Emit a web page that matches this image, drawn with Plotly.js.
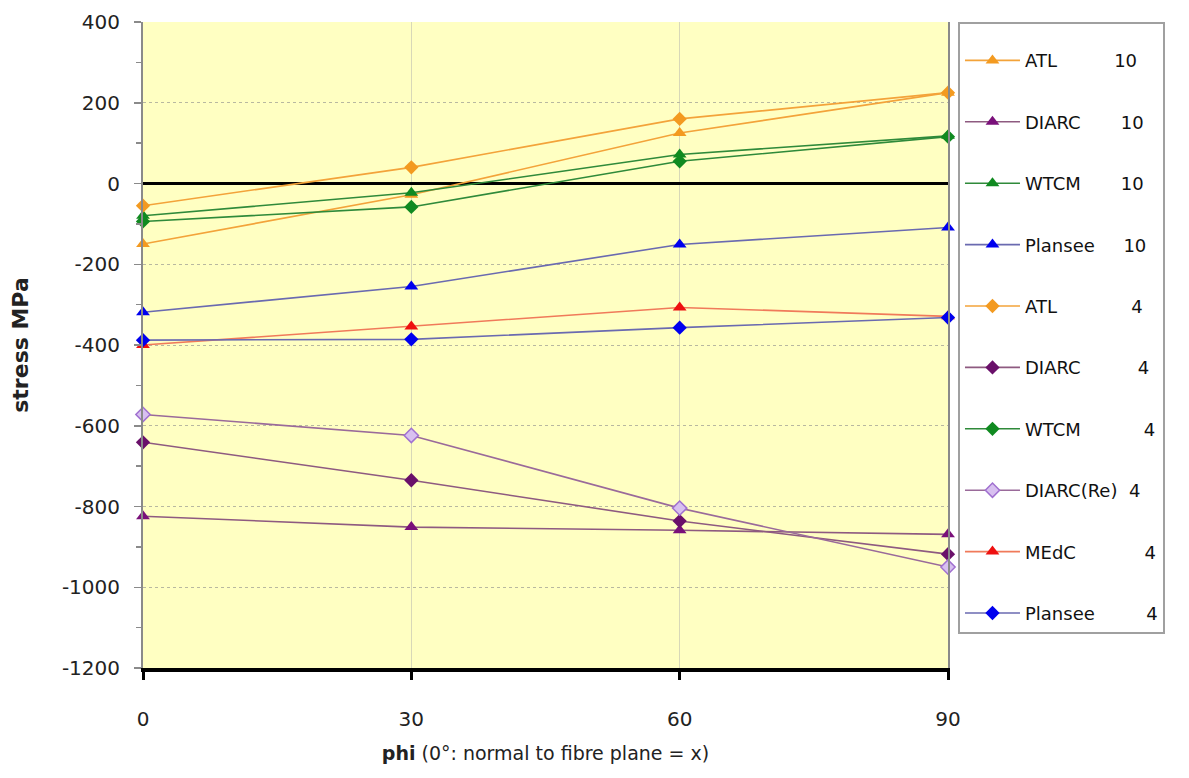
<!DOCTYPE html>
<html>
<head>
<meta charset="utf-8">
<script src="https://cdn.plot.ly/plotly-3.0.1.min.js"></script>
<style>html,body{margin:0;padding:0;background:#fff;}#chart{width:1189px;height:778px;}</style>
</head>
<body>
<div id="chart"></div>
<script>
// phi angles
var phi = [0, 30, 60, 90];
var phiLabels = ['0', '30', '60', '90'];

// stress tick labels
var stressTicks = [400, 200, 0, -200, -400, -600, -800, -1000, -1200];
var stressLabels = ['400', '200', '0', '-200', '-400', '-600', '-800', '-1000', '-1200'];

// series values (stress, MPa)
var atl10      = [-150, -28, 125, 225];
var diarc10    = [-824, -851, -859, -869];
var wtcm10     = [-80, -23, 72, 118];
var plansee10  = [-319, -255, -151, -109];
var atl4       = [-55, 40, 160, 225];
var diarc4     = [-641, -735, -836, -918];
var wtcm4      = [-94, -58, 55, 116];
var diarcRe4   = [-572, -624, -804, -950];
var medc4      = [-400, -354, -307, -329];
var plansee4   = [-388, -386, -357, -332];

// legend labels
var N = '\u00a0';
function pad(n){ return new Array(n+1).join(N); }
var labels = [
  'ATL' + pad(10) + '10',
  'DIARC' + pad(7) + '10',
  'WTCM' + pad(7) + '10',
  'Plansee' + pad(5) + '10',
  'ATL' + pad(13) + '4',
  'DIARC' + pad(10) + '4',
  'WTCM' + pad(11) + '4',
  'DIARC(Re)' + pad(2) + '4',
  'MEdC' + pad(12) + '4',
  'Plansee' + pad(9) + '4'
];

var seriesData = [atl10, diarc10, wtcm10, plansee10, atl4, diarc4, wtcm4, diarcRe4, medc4, plansee4];
var styles = [
  {line:'#f3a33a', mc:'#f39a20', sym:'triangle-up', size:12},
  {line:'#8e5a80', mc:'#7a107a', sym:'triangle-up', size:12},
  {line:'#2f8a3a', mc:'#108a20', sym:'triangle-up', size:12},
  {line:'#6a6ab0', mc:'#0000ee', sym:'triangle-up', size:12},
  {line:'#f3a33a', mc:'#f39a20', sym:'diamond', size:11},
  {line:'#8e5a80', mc:'#6a106a', sym:'diamond', size:11},
  {line:'#2f8a3a', mc:'#108a20', sym:'diamond', size:11},
  {line:'#9a6a9a', mc:'#d8c0f0', sym:'diamond', size:11, border:'#a070d0'},
  {line:'#f07a5a', mc:'#ee1010', sym:'triangle-up', size:12},
  {line:'#6a6ab0', mc:'#0000ee', sym:'diamond', size:11}
];

var traces = seriesData.map(function(vals, i){
  var s = styles[i];
  return {
    x: phi, y: vals, name: labels[i], type: 'scatter', mode: 'lines+markers',
    legendgroup: 'g' + i,
    cliponaxis: false,
    line: {color: s.line, width: 1.6},
    marker: {symbol: s.sym, size: s.size, color: s.mc,
             line: {color: s.border || s.mc, width: s.border ? 1.5 : 0}}
  };
});

var font = 'DejaVu Sans, Liberation Sans, Arial, sans-serif';

var layout = {
  width: 1189, height: 778,
  margin: {l: 143, r: 241, t: 22, b: 110, autoexpand: false},
  paper_bgcolor: '#ffffff',
  plot_bgcolor: '#ffffc2',
  font: {family: font, size: 17, color: '#222'},
  showlegend: true,
  legend: {
    x: 1.0124, xanchor: 'left', y: 1, yanchor: 'top',
    bgcolor: '#ffffff', bordercolor: '#a0a0a0', borderwidth: 2,
    font: {family: font, size: 18, color: '#111'},
    title: {text: N, font: {size: 14}},
    traceorder: 'grouped', tracegroupgap: 35,
    itemwidth: 55
  },
  xaxis: {
    range: [0, 90], tickvals: phi, ticktext: phiLabels,
    showline: true, linecolor: '#000', linewidth: 4,
    ticks: 'outside', ticklen: 8, tickwidth: 3, tickcolor: '#000',
    ticklabelstandoff: 22,
    showgrid: true, gridcolor: '#d8d8b8', gridwidth: 1,
    zeroline: false,
    tickfont: {family: font, size: 20, color: '#222'},
    title: {text: '<b>phi</b> (0\u00b0: normal to fibre plane = x)', standoff: 18,
            font: {family: font, size: 19, color: '#222'}}
  },
  yaxis: {
    range: [-1200, 400], tickvals: stressTicks, ticktext: stressLabels,
    showline: true, linecolor: '#8a8a8a', linewidth: 2, mirror: true,
    ticks: 'outside', ticklen: 7, tickwidth: 1.5, tickcolor: '#8a8a8a',
    minor: {dtick: 100, ticks: 'outside', ticklen: 5, tickcolor: '#8a8a8a', showgrid: false},
    ticklabelstandoff: 10,
    showgrid: true, gridcolor: '#b8b8a0', gridwidth: 1, griddash: 'dot',
    zeroline: true, zerolinecolor: '#000', zerolinewidth: 3,
    tickfont: {family: font, size: 20, color: '#222'},
    title: {text: '<b>stress MPa</b>', standoff: 27,
            font: {family: font, size: 22, color: '#222'}}
  }
};

Plotly.newPlot('chart', traces, layout, {displayModeBar: false, staticPlot: true});
</script>
</body>
</html>
